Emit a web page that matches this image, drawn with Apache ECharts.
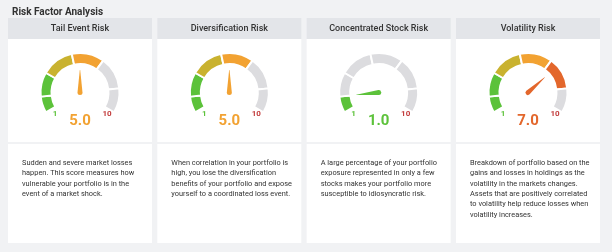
<!DOCTYPE html>
<html lang="en">
<head>
    <meta charset="UTF-8">
    <title>Risk Factor Analysis</title>
    <script src="https://cdn.jsdelivr.net/npm/echarts@6/dist/echarts.min.js"></script>
    <style>
        html, body { margin: 0; padding: 0; background: #f1f2f4; }
    </style>
</head>
<body>
    <div id="main" style="width: 612px;height:252px;"></div>
    <script type="text/javascript">
       // data
       var cardTitles = ['Tail Event Risk', 'Diversification Risk', 'Concentrated Stock Risk', 'Volatility Risk'];
       var scores = [5.0, 5.0, 1.0, 7.0];
       var descriptions = [
           'Sudden and severe market losses\nhappen. This score measures how\nvulnerable your portfolio is in the\nevent of a market shock.',
           'When correlation in your portfolio is\nhigh, you lose the diversification\nbenefits of your portfolio and expose\nyourself to a coordinated loss event.',
           'A large percentage of your portfolio\nexposure represented in only a few\nstocks makes your portfolio more\nsusceptible to idiosyncratic risk.',
           'Breakdown of portfolio based on the\ngains and losses in holdings as the\nvolatility in the markets changes.\nAssets that are positively correlated\nto volatility help reduce losses when\nvolatility increases.'
       ];
       // gauge bands (upper bound of each band on the 0-10 scale)
       var bandEnds = [1, 2.5, 4.5, 6.5, 8.5, 10];
       var bandColors = ['#5cc23a', '#5cc23a', '#c9b22f', '#f2a232', '#e3672c', '#d8402c'];
       var endLabels = ['1', '10'];

       var GRAY = '#dcdcdf';
       var gaugeMin = 0, gaugeMax = 10;
       var startAngle = 210, endAngle = -30;

       var myChart = echarts.init(document.getElementById('main'), null, {renderer: 'canvas'});

       var cardW = 144, cardStep = 149.33, cardLeft = 8;
       var gaugeCy = 92.5;
       var graphics = [];
       var series = [];

       for (var i = 0; i < scores.length; i++) {
           var x = cardLeft + i * cardStep;
           var cx = x + cardW / 2;
           var v = scores[i];

           // card backgrounds
           graphics.push({type: 'rect', shape: {x: x, y: 18, width: cardW, height: 21}, style: {fill: '#e3e5e9'}, silent: true});
           graphics.push({type: 'rect', shape: {x: x, y: 39, width: cardW, height: 103}, style: {fill: '#ffffff'}, silent: true});
           graphics.push({type: 'rect', shape: {x: x, y: 144, width: cardW, height: 99}, style: {fill: '#ffffff'}, silent: true});
           graphics.push({type: 'text', x: cx, y: 28.5, silent: true, z: 5,
               style: {text: cardTitles[i], fill: '#333', font: '500 9px Roboto', align: 'center', verticalAlign: 'middle'}});
           graphics.push({type: 'text', x: x + 14, y: 158.2, silent: true, z: 5,
               style: {text: descriptions[i], fill: '#333', font: '7.4px Roboto', lineHeight: 10.3, align: 'left', verticalAlign: 'top'}});
           graphics.push({type: 'text', x: cx - 25, y: gaugeCy + 21, silent: true, z: 5,
               style: {text: endLabels[0], fill: '#5cc23a', font: 'bold 8px Roboto', align: 'center', verticalAlign: 'middle'}});
           graphics.push({type: 'text', x: cx + 27, y: gaugeCy + 21.5, silent: true, z: 5,
               style: {text: endLabels[1], fill: '#c23b3b', font: 'bold 8px Roboto', align: 'center', verticalAlign: 'middle'}});

           // bands as pie slices, last slice is the open bottom of the dial
           var bandData = [];
           var prev = gaugeMin;
           var valueColor = bandColors[0];
           for (var b = 0; b < bandEnds.length; b++) {
               var on = prev < v;
               if (v > prev && v <= bandEnds[b]) valueColor = bandColors[b];
               bandData.push({value: bandEnds[b] - prev, itemStyle: {color: on ? bandColors[b] : GRAY}});
               prev = bandEnds[b];
           }
           var openPart = (gaugeMax - gaugeMin) * (360 - (startAngle - endAngle)) / (startAngle - endAngle);
           bandData.push({value: openPart, itemStyle: {color: 'rgba(0,0,0,0)', borderWidth: 0}});

           series.push({
               type: 'pie',
               center: [cx, gaugeCy],
               radius: [28.5, 39.5],
               startAngle: startAngle,
               clockwise: true,
               silent: true,
               animation: false,
               label: {show: false},
               labelLine: {show: false},
               itemStyle: {borderColor: '#ffffff', borderWidth: 2},
               data: bandData,
               z: 2
           });

           series.push({
               type: 'gauge',
               center: [cx, gaugeCy],
               radius: 38.5,
               startAngle: startAngle,
               endAngle: endAngle,
               min: gaugeMin,
               max: gaugeMax,
               animation: false,
               axisLine: {show: false},
               splitLine: {show: false},
               axisTick: {show: false},
               axisLabel: {show: false},
               pointer: {
                   icon: 'path://M4.6,0 L5.4,0 L10,45 A5,5 0 1 1 0,45 Z',
                   length: 25,
                   width: 5,
                   offsetCenter: [0, 2.5],
                   itemStyle: {color: valueColor}
               },
               anchor: {show: false},
               title: {show: false},
               detail: {
                   offsetCenter: [0, 28.5],
                   fontSize: 15,
                   fontWeight: 'bold',
                   fontFamily: 'Roboto',
                   color: valueColor,
                   formatter: function (val) { return val.toFixed(1); }
               },
               data: [{value: v}],
               z: 3
           });
       }

       var option = {
           backgroundColor: '#f1f2f4',
           title: {
               text: 'Risk Factor Analysis',
               left: 7,
               top: 2,
               textStyle: {fontSize: 10, fontWeight: 'bold', color: '#333', fontFamily: 'Roboto'}
           },
           graphic: graphics,
           series: series
       };

       myChart.setOption(option);
    </script>
</body>
</html>
